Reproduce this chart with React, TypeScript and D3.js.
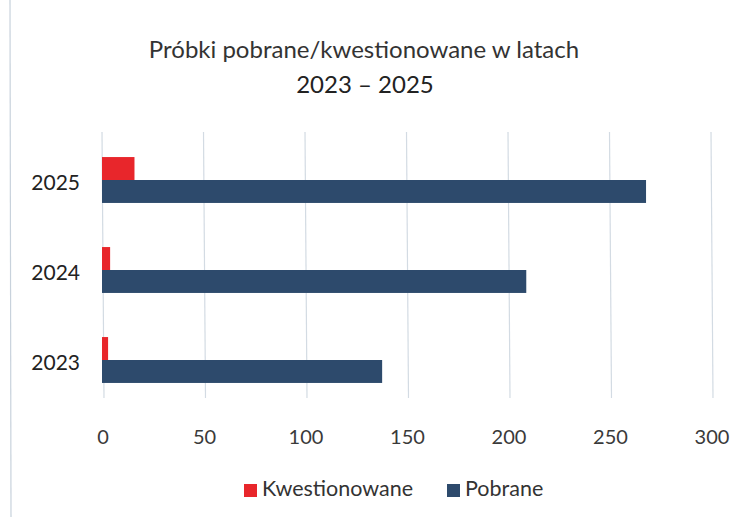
import React, { useRef, useEffect } from "react";
import * as d3 from "d3";

const years = ["2025", "2024", "2023"];
const kwestionowane = [16, 4, 3];
const pobrane = [268, 209, 138];
const xTicks = [0, 50, 100, 150, 200, 250, 300];
const seriesNames = ["Kwestionowane", "Pobrane"];
const seriesColors = ["#e8262b", "#2d4a6c"];

export default function App() {
  const chartRef = useRef<SVGSVGElement>(null);

  useEffect(() => {
    const width = 756;
    const height = 517;
    const font = "Lato, 'Open Sans', sans-serif";

    const svg = d3.select(chartRef.current);
    svg.selectAll("*").remove();
    svg.attr("width", width).attr("height", height);

    svg.append("rect").attr("width", width).attr("height", height).attr("fill", "#fff");

    // faint scan edge on the left
    svg.append("line")
      .attr("x1", 10).attr("x2", 11).attr("y1", 0).attr("y2", height)
      .attr("stroke", "#c8d2dc").attr("stroke-width", 1.2);

    const x = d3.scaleLinear().domain([0, 300]).range([102, 711]);

    const y = d3.scaleBand()
      .domain(years)
      .range([135, 405])
      .paddingInner(0.49)
      .paddingOuter(0.245);

    const inner = d3.scaleBand()
      .domain(seriesNames)
      .range([0, y.bandwidth()]);

    // grid
    svg.append("g")
      .selectAll("line")
      .data(xTicks)
      .join("line")
      .attr("x1", d => x(d))
      .attr("x2", d => x(d) + 2)
      .attr("y1", 132)
      .attr("y2", 398)
      .attr("stroke", "#d3dbe3")
      .attr("stroke-width", 1.2);

    const rows = years.map((yr, i) => ({ yr, values: [kwestionowane[i], pobrane[i]] }));

    const groups = svg.append("g")
      .selectAll("g")
      .data(rows)
      .join("g")
      .attr("transform", d => `translate(0,${y(d.yr)})`);

    groups.selectAll("rect")
      .data(d => d.values.map((v, j) => ({ v, s: seriesNames[j], c: seriesColors[j] })))
      .join("rect")
      .attr("x", x(0))
      .attr("y", d => inner(d.s)!)
      .attr("width", d => x(d.v) - x(0))
      .attr("height", inner.bandwidth())
      .attr("fill", d => d.c);

    // y labels
    svg.append("g")
      .selectAll("text")
      .data(years)
      .join("text")
      .attr("x", 80)
      .attr("y", d => y(d)! + y.bandwidth() / 2 + 10)
      .attr("text-anchor", "end")
      .attr("font-family", font)
      .attr("font-size", 21)
      .attr("fill", "#222")
      .text(d => d);

    // x tick labels
    svg.append("g")
      .selectAll("text")
      .data(xTicks)
      .join("text")
      .attr("x", d => x(d) + 1)
      .attr("y", 444)
      .attr("text-anchor", "middle")
      .attr("font-family", font)
      .attr("font-size", 20)
      .attr("fill", "#3a3a3a")
      .text(d => d);

    // title
    const title = svg.append("text")
      .attr("text-anchor", "middle")
      .attr("font-family", font)
      .attr("font-size", 24)
      .attr("fill", "#333");
    title.append("tspan").attr("x", 364).attr("y", 58).text("Próbki pobrane/kwestionowane w latach");
    title.append("tspan").attr("x", 365).attr("y", 93).attr("fill", "#222").text("2023 – 2025");

    // legend
    const legendX = [244, 447];
    const legend = svg.append("g")
      .selectAll("g")
      .data(seriesNames)
      .join("g")
      .attr("transform", (d, i) => `translate(${legendX[i]},484)`);
    legend.append("rect")
      .attr("width", 13).attr("height", 13)
      .attr("fill", (d, i) => seriesColors[i]);
    legend.append("text")
      .attr("x", 18).attr("y", 12)
      .attr("font-family", font)
      .attr("font-size", 21.5)
      .attr("fill", "#333")
      .text(d => d);
  }, []);

  return (
    <div style={{ position: "absolute", left: 0, top: 0 }}>
      <svg ref={chartRef}></svg>
    </div>
  );
}
